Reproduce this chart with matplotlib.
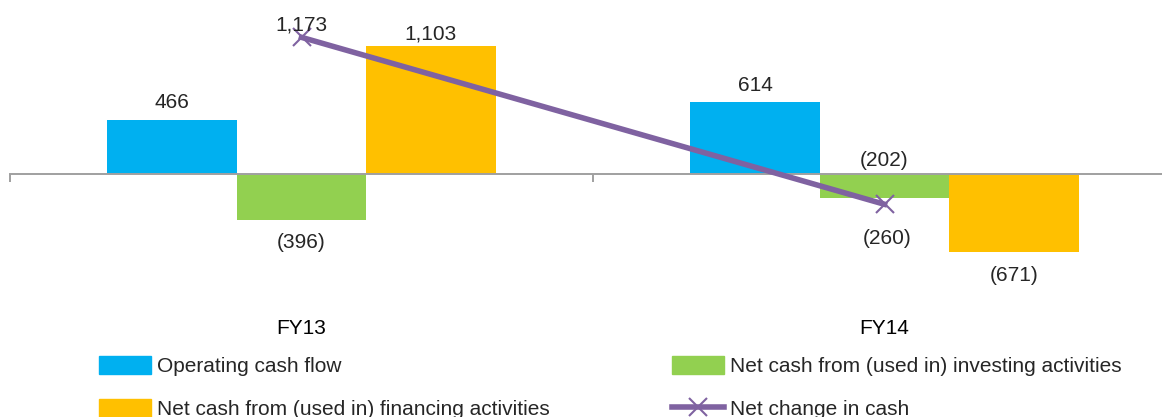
import matplotlib
matplotlib.use("Agg")
import matplotlib.pyplot as plt
import matplotlib.transforms as mtransforms
from matplotlib.patches import Patch
from matplotlib.lines import Line2D
import numpy as np

plt.rcParams['font.family'] = ['Liberation Sans', 'DejaVu Sans']

categories = ["FY13", "FY14"]
operating = [466, 614]
investing = [-396, -202]
financing = [1103, -671]
net_change = [1173, -260]
series_names = ["Operating cash flow",
                "Net cash from (used in) investing activities",
                "Net cash from (used in) financing activities",
                "Net change in cash"]

C_BLUE = "#00B0F0"
C_GREEN = "#92D050"
C_YELLOW = "#FFC000"
C_PURPLE = "#7F62A1"
TXT = "#262626"

def fmt(v):
    return f"{v:,}" if v >= 0 else f"({abs(v):,})"

W, H = 1162, 417
fig = plt.figure(figsize=(W / 100, H / 100), dpi=100)
# axes spans x 10..1176 px, y -0.75..290.5 px (from top)
ax = fig.add_axes([10 / W, 1 - 290.5 / H, 1166 / W, 291.25 / H])
ax.set_xlim(-0.5, 1.5)
ax.set_ylim(-1000, 1500)

x = np.arange(len(categories))
w = 0.222
ax.bar(x - w, operating, w, color=C_BLUE, zorder=2)
ax.bar(x, investing, w, color=C_GREEN, zorder=2)
ax.bar(x + w, financing, w, color=C_YELLOW, zorder=2)
LW, MS, MEW = 4.0, 13, 1.5
ax.plot(x, net_change, color=C_PURPLE, lw=LW, marker='x',
        markersize=MS, markeredgewidth=MEW, zorder=4)

# axis styling
for s in ['left', 'right', 'top']:
    ax.spines[s].set_visible(False)
ax.spines['bottom'].set_position(('data', 0))
ax.spines['bottom'].set_color('#A0A0A0')
ax.spines['bottom'].set_linewidth(1.4)
ax.set_yticks([])
ax.set_xticks([-0.5, 0.5, 1.5])
ax.set_xticklabels([])
ax.tick_params(axis='x', direction='out', length=6, width=1.4, color='#A0A0A0')

fs = 15
def label(xv, yv, text, dy_pt, dx_pt=0):
    ax.annotate(text, (xv, yv), xytext=(dx_pt, dy_pt), textcoords='offset points',
                ha='center', va='center', fontsize=fs, color=TXT, zorder=5)

# data labels (offsets in points)
label(x[0] - w, operating[0], fmt(operating[0]), 12.5)
label(x[1] - w, operating[1], fmt(operating[1]), 12.5)
label(x[0], investing[0], fmt(investing[0]), -16)
label(x[1], 0, fmt(investing[1]), 10)
label(x[0] + w, financing[0], fmt(financing[0]), 8.5)
label(x[1] + w, financing[1], fmt(financing[1]), -17)
label(x[0], net_change[0], fmt(net_change[0]), 9)
label(x[1], net_change[1], fmt(net_change[1]), -24.5, 2)

# category labels
trans = mtransforms.blended_transform_factory(ax.transData, fig.transFigure)
for xi, c in zip(x, categories):
    ax.text(xi, 1 - 328 / H, c, transform=trans, ha='center', va='center',
            fontsize=fs, color='black')

# legends
h_op = Patch(color=C_BLUE)
h_inv = Patch(color=C_GREEN)
h_fin = Patch(color=C_YELLOW)
h_net = Line2D([], [], color=C_PURPLE, lw=LW, marker='x', markersize=MS,
               markeredgewidth=MEW)
common = dict(frameon=False, fontsize=fs, handlelength=2.5, handleheight=0.96,
              handletextpad=0.29, labelspacing=1.1, borderpad=0,
              borderaxespad=0, loc='upper left', labelcolor=TXT)
fig.legend([h_op, h_fin], [series_names[0], series_names[2]],
           bbox_to_anchor=(99 / W, 1 - 355.5 / H), **common)
fig.legend([h_inv, h_net], [series_names[1], series_names[3]],
           bbox_to_anchor=(672 / W, 1 - 355.5 / H), **common)

fig.savefig("out.png", dpi=100)
